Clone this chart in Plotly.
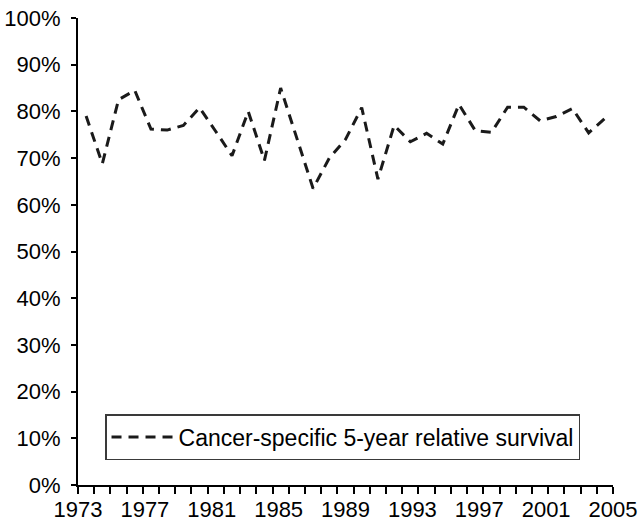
import plotly.graph_objects as go

# Data
years = list(range(1973, 2006))
survival = [79.0, 68.8, 82.5, 84.5, 76.2, 76.0, 77.0, 80.8, 75.7, 70.5,
            80.0, 69.5, 85.0, 74.0, 63.5, 70.0, 74.0, 80.8, 65.5, 77.0,
            73.5, 75.3, 73.0, 81.5, 75.9, 75.5, 80.9, 80.9, 78.0, 78.9,
            80.6, 75.4, 78.5]
label_years = [1973, 1977, 1981, 1985, 1989, 1993, 1997, 2001, 2005]
y_ticks = [0, 10, 20, 30, 40, 50, 60, 70, 80, 90, 100]
series_name = "Cancer-specific 5-year relative survival"

FONT = "Liberation Sans, Arial, sans-serif"

x_lo, x_hi = years[0] - 0.5, years[-1] + 0.5
span = x_hi - x_lo
label_pos = [x_lo + (y - label_years[0]) * span / (label_years[-1] - label_years[0]) for y in label_years]

fig = go.Figure()
fig.add_trace(go.Scatter(
    x=years, y=survival, mode="lines", name=series_name,
    line=dict(color="#1a1a1a", width=3, dash="10px,7px"),
))

fig.update_layout(
    width=642, height=523,
    margin=dict(l=78, r=29, t=18, b=38, autoexpand=False),
    paper_bgcolor="white", plot_bgcolor="white",
    font=dict(family=FONT, size=22, color="black"),
    showlegend=True,
    legend=dict(
        x=0.0505, y=0.152, xanchor="left", yanchor="top",
        bordercolor="#3a3a3a", borderwidth=1.5, bgcolor="white",
        font=dict(size=23, family=FONT, color="black"),
        itemwidth=62,
    ),
    xaxis=dict(
        range=[x_lo, x_hi], showgrid=False, zeroline=False, automargin=False,
        showline=True, linecolor="black", linewidth=2,
        tickmode="array", tickvals=label_pos, ticktext=[str(y) for y in label_years],
        ticks="", ticklabelstandoff=4,
        minor=dict(tickmode="linear", tick0=x_lo, dtick=1, ticks="outside",
                   ticklen=7, tickwidth=1.5, tickcolor="black"),
    ),
    yaxis=dict(
        range=[0, 100], showgrid=False, zeroline=False, automargin=False,
        showline=True, linecolor="black", linewidth=2,
        tickmode="array", tickvals=y_ticks, ticktext=[f"{v}%" for v in y_ticks],
        ticks="outside", ticklen=5, tickwidth=1.5, tickcolor="black",
        ticklabelstandoff=6,
    ),
)

fig.write_html(
    "out.html",
    config={"displayModeBar": False},
    post_script="document.body.style.margin='0';document.body.style.overflow='hidden';",
)
